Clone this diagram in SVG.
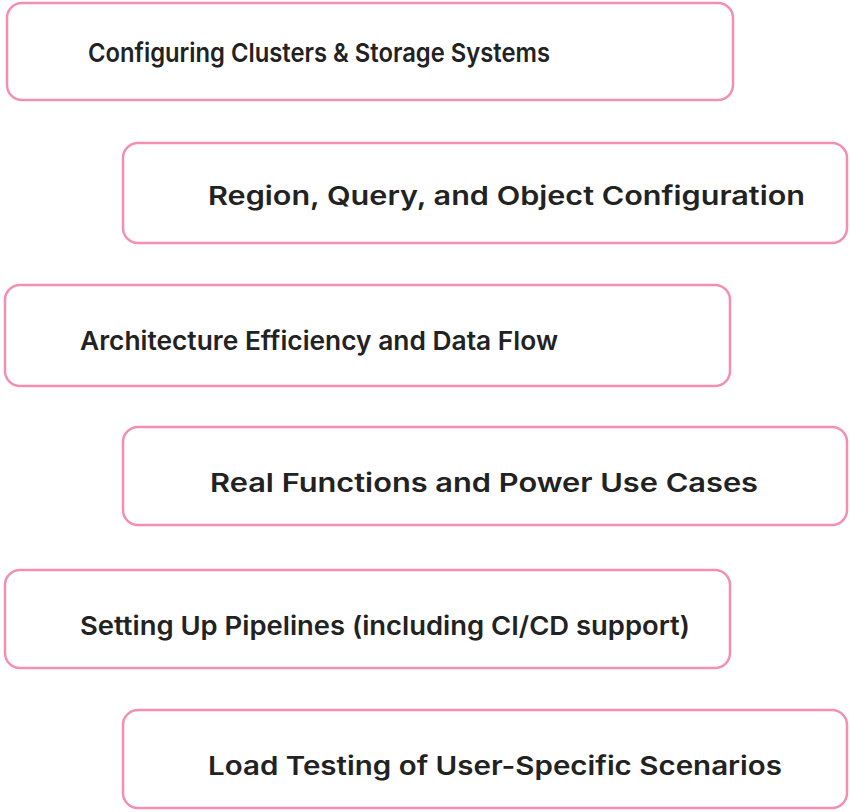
<svg xmlns="http://www.w3.org/2000/svg" width="850" height="812" viewBox="0 0 850 812">
<style>
.box{fill:#ffffff;stroke:#f48fb1;stroke-width:2.5}
.t{font-family:Inter,"Liberation Sans",sans-serif;font-size:26px;font-weight:600;fill:#222222}
</style>
<rect width="850" height="812" fill="#ffffff"/>
<g id="n1"><rect class="box" x="7" y="3" width="726" height="97" rx="15"/><text class="t" x="88" y="62" textLength="462" lengthAdjust="spacingAndGlyphs">Configuring Clusters &amp; Storage Systems</text></g>
<g id="n2"><rect class="box" x="123" y="143" width="724" height="100" rx="15"/><text class="t" x="208" y="205" textLength="597" lengthAdjust="spacingAndGlyphs">Region, Query, and Object Configuration</text></g>
<g id="n3"><rect class="box" x="5" y="285" width="725" height="101" rx="15"/><text class="t" x="80" y="350" textLength="478" lengthAdjust="spacingAndGlyphs">Architecture Efficiency and Data Flow</text></g>
<g id="n4"><rect class="box" x="123" y="427" width="724" height="98" rx="15"/><text class="t" x="210" y="492" textLength="548" lengthAdjust="spacingAndGlyphs">Real Functions and Power Use Cases</text></g>
<g id="n5"><rect class="box" x="5" y="570" width="725" height="98" rx="15"/><text class="t" x="80" y="635" textLength="610" lengthAdjust="spacingAndGlyphs">Setting Up Pipelines (including CI/CD support)</text></g>
<g id="n6"><rect class="box" x="123" y="710" width="724" height="98" rx="15"/><text class="t" x="208" y="775" textLength="574" lengthAdjust="spacingAndGlyphs">Load Testing of User-Specific Scenarios</text></g>
<g id="connectors"></g>
</svg>
